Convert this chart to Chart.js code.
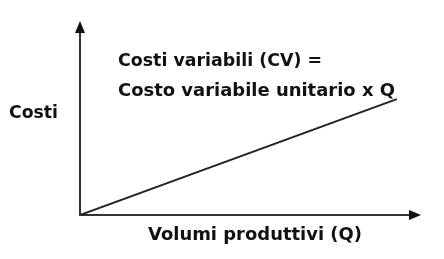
<!DOCTYPE html>
<html><head><meta charset="utf-8">
<script src="https://cdn.jsdelivr.net/npm/chart.js@4.4.1/dist/chart.umd.min.js"></script>
<style>html,body{margin:0;padding:0;background:#fff}#wrap{width:444px;height:259px}</style>
</head><body><div id="wrap"><canvas id="c" width="444" height="259"></canvas></div>
<script>
const quantities = [0, 9.4];
const costs = [0, 6.1];
const yTitle = 'Costi';
const xTitle = 'Volumi produttivi (Q)';
const noteLines = ['Costi variabili (CV) =', 'Costo variabile unitario x Q'];

const FONT = 'bold 17px "DejaVu Sans"';
const annot = {
  id: 'annot',
  afterDraw(chart) {
    const {ctx, chartArea: a} = chart;
    ctx.save();
    ctx.fillStyle = '#111';
    // arrows
    ctx.beginPath();
    ctx.moveTo(a.left, a.top - 4); ctx.lineTo(a.left - 5, a.top + 8); ctx.lineTo(a.left + 5, a.top + 8); ctx.closePath(); ctx.fill();
    ctx.beginPath();
    ctx.moveTo(a.right + 4, a.bottom); ctx.lineTo(a.right - 8, a.bottom - 5); ctx.lineTo(a.right - 8, a.bottom + 5); ctx.closePath(); ctx.fill();
    ctx.font = FONT;
    ctx.textBaseline = 'alphabetic';
    ctx.textAlign = 'left';
    const fit = (t, x, y, w) => { const m = ctx.measureText(t).width; ctx.save(); ctx.translate(x, y); ctx.scale(w / m, 1); ctx.fillText(t, 0, 0); ctx.restore(); };
    fit(yTitle, 9, 118, 49);
    fit(xTitle, 148, 240, 214);
    fit(noteLines[0], 118, 66, 204);
    fit(noteLines[1], 118, 96, 277);
    ctx.restore();
  }
};

new Chart(document.getElementById('c'), {
  type: 'line',
  data: { datasets: [{ data: quantities.map((q, i) => ({x: q, y: costs[i]})), borderColor: '#222', borderWidth: 2, pointRadius: 0, tension: 0 }] },
  options: {
    responsive: false, animation: false,
    layout: { padding: { left: 80, top: 25, right: 27, bottom: 44 } },
    plugins: { legend: { display: false }, tooltip: { enabled: false } },
    scales: {
      x: { type: 'linear', min: 0, max: 10, grid: { display: false, drawTicks: false }, ticks: { display: false }, border: { display: true, color: '#333', width: 2 } },
      y: { type: 'linear', min: 0, max: 10, grid: { display: false, drawTicks: false }, ticks: { display: false }, border: { display: true, color: '#333', width: 2 } }
    }
  },
  plugins: [annot]
});
</script></body></html>
